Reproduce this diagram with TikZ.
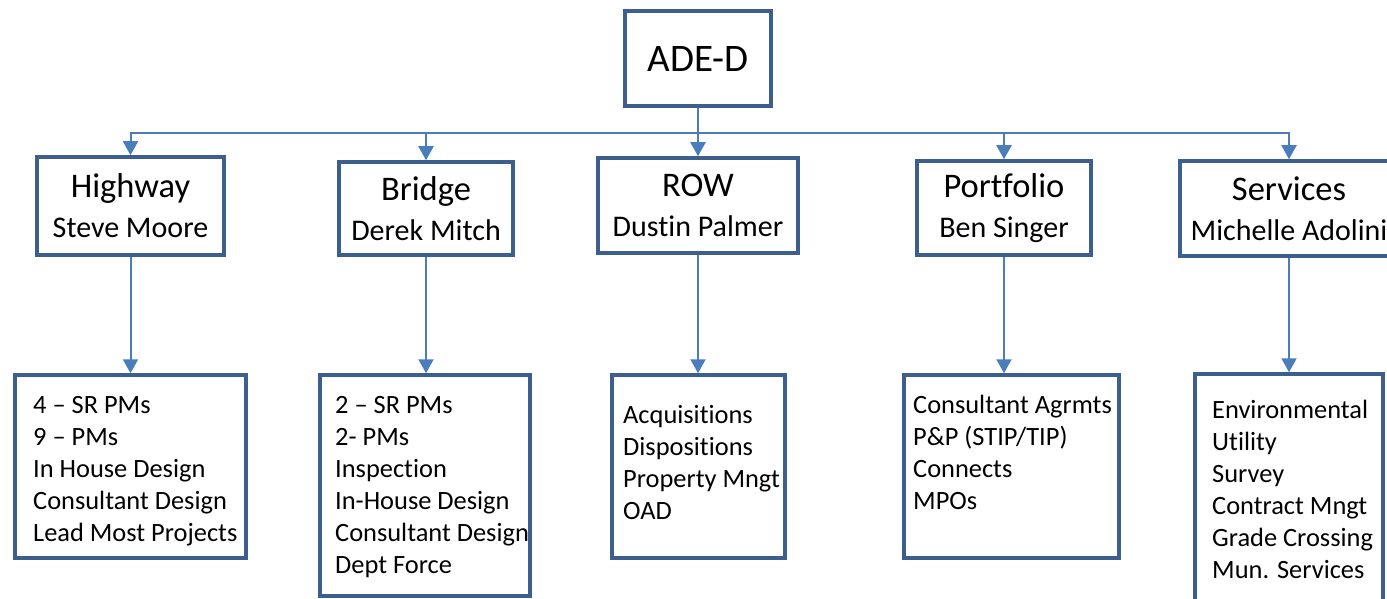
\documentclass[tikz,border=0pt]{standalone}
\usepackage{xcolor}
\usepackage{fontspec}
\setmainfont{Carlito}[Ligatures={TeX,NoCommon}]
\usepackage{tikz}
\usetikzlibrary{arrows.meta,positioning}

\definecolor{boxblue}{HTML}{3C5F8D}
\definecolor{linkblue}{HTML}{4A7EBB}

\begin{document}
\begin{tikzpicture}[x=1pt,y=-1pt]
        % Setup the styles for the boxes and links
        \tikzset{head style/.style={draw=boxblue,
                                    line width=3.5pt,
                                    inner sep=0pt,
                                    font=\fontsize{39}{44}\selectfont},
                 unit style/.style={draw=boxblue,
                                    line width=3.5pt,
                                    inner sep=0pt,
                                    align=center,
                                    font=\fontsize{30}{40}\selectfont},
                 list style/.style={draw=boxblue,
                                    line width=3.5pt,
                                    inner sep=0pt},
                 list text/.style={anchor=north west,
                                   inner sep=0pt,
                                   align=left,
                                   font=\fontsize{26.4}{32}\selectfont},
                 link/.style={draw=linkblue,
                              line width=2pt,
                              -{Triangle[width=15pt,length=14pt]}}}

        \clip (0,0) rectangle (1387,599);

        % Draw the head
        \node[head style, minimum width=146, minimum height=95] at (698, 58.5) (ade) {ADE-D};
        \coordinate (bus) at (698, 133);

        % Draw the units
        \node[unit style, minimum width=187, minimum height=98] at (130.5, 206)  (hwy)    {{\fontsize{34.5}{40}\selectfont Highway}\\Steve Moore};
        \node[unit style, minimum width=174, minimum height=93] at (426, 208.5)  (bridge) {{\fontsize{34.5}{40}\selectfont Bridge}\\Derek Mitch};
        \node[unit style, minimum width=200, minimum height=95] at (698, 205.5)  (row)    {{\fontsize{34.5}{40}\selectfont ROW}\\Dustin Palmer};
        \node[unit style, minimum width=174, minimum height=94] at (1004, 208)   (port)   {{\fontsize{34.5}{40}\selectfont Portfolio}\\Ben Singer};
        \node[unit style, minimum width=218, minimum height=95] at (1289, 208.5) (serv)   {{\fontsize{34.5}{40}\selectfont Services}\\Michelle Adolini};

        % Draw the lists
        \node[list style, minimum width=231, minimum height=183] at (130.5, 466.5) (hwylist)    {};
        \node[list style, minimum width=210, minimum height=221] at (425, 485.5)   (bridgelist) {};
        \node[list style, minimum width=173, minimum height=183] at (698.5, 466.5) (rowlist)    {};
        \node[list style, minimum width=215, minimum height=183] at (1011.5, 466.5) (portlist)  {};
        \node[list style, minimum width=188, minimum height=239] at (1289, 493.5)  (servlist)   {};

        \node[list text] at (33, 390.6)   (hwytext)    {\strut 4 – SR PMs\\9 – PMs\\In House Design\\Consultant Design\\Lead Most Projects};
        \node[list text] at (335, 390.6)  (bridgetext) {\strut 2 – SR PMs\\2- PMs\\Inspection\\In-House Design\\Consultant Design\\Dept Force};
        \node[list text] at (623, 400.6)  (rowtext)    {\strut Acquisitions\\Dispositions\\Property Mngt\\OAD};
        \node[list text] at (913, 390.6)  (porttext)   {\strut Consultant Agrmts\\P\&P (STIP/TIP)\\Connects\\MPOs};
        \node[list text] at (1212, 395.6) (servtext)   {\strut Environmental\\Utility\\Survey\\Contract Mngt\\Grade Crossing\\Mun. Services};

        % Connect the head to the units
        \draw[link] (ade) -- (row);
        \foreach \unitname in {hwy, bridge, port, serv}
            \draw[link] (bus) -| (\unitname);

        % Connect the units to their lists
        \foreach \unitname in {hwy, bridge, row, port, serv}
            \draw[link] (\unitname.south) -- (\unitname.south |- \unitname list.north);
\end{tikzpicture}
\end{document}
